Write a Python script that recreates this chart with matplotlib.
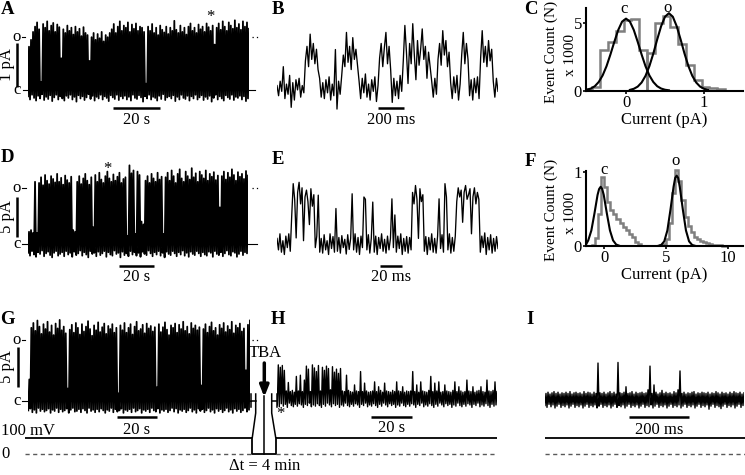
import numpy as np
import matplotlib
matplotlib.use('Agg')
from matplotlib import pyplot as plt

plt.rcParams['font.family'] = ['Liberation Serif', 'DejaVu Serif']
FS = 12
plt.rcParams['font.size'] = FS

# ---------------- data ----------------
# trace lengths (s)
dur_a = 94.0
dur_b = 1.7
dur_d = 126.0
dur_e = 0.201
dur_g = 111.0
dur_h = 107.0
dur_i = 0.663

# open level of each recording (pA); traces below are in % of it
open_a = 1.2
open_b = 0.66
open_d = 7.1
open_e = 5.75
open_g = 7.6

# dense recordings: upper / lower envelope per column (% of open level)
a_top = [82, 95, 110, 120, 128, 115, 15, 125, 118, 130, 112, 122, 127, 110, 124, 119,
         60, 115, 108, 122, 112, 118, 105, 120, 110, 116, 102, 119, 108,
         104, 55, 100, 108, 95, 106, 98, 110, 92, 104, 100, 108,
         115, 125, 108, 120, 130, 112, 122, 118, 128, 110, 124, 116, 126, 112, 120,
         118, 110, 12, 120, 112, 125, 108, 118, 104, 122, 114, 109, 120, 106, 118, 112, 131,
         114, 108, 122, 110, 118, 105, 120, 126, 112, 118, 108, 124, 115, 120, 110, 126, 119, 112, 122, 86,
         118, 126, 114, 130, 120, 112, 128, 122, 116, 132, 118, 125, 114, 130, 120, 128, 116]
a_bot = [-12, -18, -9, -15, -20, -11, -16, -8, -19, -13, -17, -10, -21, -14, -9, -18, -12, -16, -20, -11,
         -15, -9, -18, -13, -22, -10, -16, -12, -19, -14, -8, -17, -11, -20, -13, -16, -9, -18, -12, -15,
         -21, -10, -14, -17, -9, -19, -12, -16, -11, -18, -13, -20, -9, -15, -17, -10, -14, -22, -12, -16,
         -9, -18, -13, -15, -20, -11, -17, -8, -19, -14, -12, -16, -10, -21, -13, -18, -9, -15, -17, -11,
         -20, -12, -16, -9, -18, -14, -10, -19, -13, -17, -11, -22, -15, -9, -18, -12, -16, -20, -10, -14,
         -17, -9, -19, -13, -15, -11, -18, -12, -21, -16]

d_top = [22, 25, 20, 110, 20,
         108, 118, 104, 122, 112, 106, 120, 115, 109, 124, 110, 117, 105, 121, 113, 108, 119,
         25, 22,
         110, 120, 106, 116, 124, 112, 105, 118, 30, 122, 110, 126, 114, 108, 120, 128, 116, 110,
         123, 112, 119, 126, 108, 115,
         118, 15, 139, 125, 130, 18, 128, 122, 40, 35,
         112, 120, 108, 124, 116, 110, 126, 114, 119, 18,
         118, 126, 112, 130, 120, 108, 124, 132, 116, 110, 128, 120, 114, 134, 118, 125, 110, 128,
         122, 116, 130, 112, 124, 119, 127, 113, 121, 65,
         120, 128, 114, 126, 118, 132, 122, 112, 127, 119, 124, 115, 129, 121]
d_bot = [-15, -20, -12, -18, -22, -14, -17, -11, -21, -16, -13, -19, -23, -15, -12, -20, -17, -14, -21, -12,
         -18, -15, -22, -13, -19, -16, -11, -20, -14, -18, -23, -12, -17, -15, -21, -13, -19, -16, -12, -22,
         -14, -18, -20, -11, -17, -15, -23, -13, -19, -16, -21, -12, -18, -14, -20, -15, -22, -13, -17, -19,
         -11, -16, -21, -14, -18, -12, -20, -15, -23, -13, -17, -19, -12, -16, -21, -14, -18, -11, -20, -15,
         -22, -13, -17, -19, -12, -16, -21, -14, -18, -20, -13, -15, -22, -12, -17, -19, -14, -21, -16, -11,
         -18, -20, -13, -15, -22, -17, -12, -19, -14, -16]

g_top = [35,
         120, 128, 115, 132, 122, 110, 126, 118, 130, 113, 124, 108, 127, 119, 133, 116, 122, 111,
         20,
         117, 125, 112, 128, 120, 109, 126, 114, 122, 131, 118, 107, 124, 116, 129, 113, 121, 127,
         110, 123, 118, 126, 112, 120,
         12,
         124, 116, 128, 112, 120, 126, 109, 122, 130, 115, 118, 125, 111, 127, 119, 123, 114, 121,
         22,
         126, 113, 121, 129, 117, 108, 124, 120, 127, 112, 125, 118, 130, 115, 122, 110, 128, 119,
         124, 116, 121,
         25,
         118, 126, 112, 122, 129, 115, 120, 108, 125, 119, 128, 113, 123, 117, 130, 111, 124, 120,
         127, 114, 119,
         50, 125, 132]
g_bot = [-16, -13, -19, -15, -20, -12, -17, -14, -18, -16, -13, -20, -15, -17, -12, -19, -14, -18, -16, -13,
         -20, -15, -12, -18, -17, -14, -19, -13, -16, -20, -12, -17, -15, -19, -14, -18, -13, -16, -20, -15,
         -17, -12, -19, -14, -18, -16, -13, -20, -15, -17, -14, -19, -12, -18, -16, -13, -20, -15, -17, -14,
         -19, -12, -16, -18, -13, -20, -15, -17, -14, -19, -16, -12, -18, -13, -20, -15, -17, -14, -19, -16,
         -12, -18, -15, -20, -13, -17, -14, -19, -16, -12, -18, -15, -20, -13, -17, -14, -19, -16, -12, -18,
         -15, -20, -13, -17, -14, -19, -16, -12, -18, -15]

# after TBA (same scale as G)
h_top = [59, 55, 58, 50, 16, 30, 15, 17, 14, 40, 16, 42, 15, 34,
         57, 52, 15, 59, 54, 48, 58, 16, 55, 50, 57, 53, 18, 56, 47, 52, 45,
         53, 16, 15, 42, 17, 15, 14, 26, 16, 15, 48, 15, 29, 16, 14,
         15, 16, 31, 15, 23, 17, 14, 29, 16, 15, 14, 17, 15, 31, 16, 15, 23, 14, 16, 15,
         16, 48, 15, 26, 14, 31, 16, 15, 14, 17, 40, 15, 29, 16, 31, 14, 15, 26, 16, 15,
         14, 17, 31, 15, 23, 16, 14, 15, 34, 16, 15, 23, 14, 16, 17, 23, 15, 14, 34, 16, 15, 17, 31, 15]
h_bot = [-7, -10, -5, -9, -6, -11, -4, -8, -10, -6, -9, -5, -7, -11, -6, -8, -4, -10, -7, -9,
         -5, -8, -11, -6, -9, -4, -7, -10, -5, -8, -6, -11, -7, -9, -4, -8, -10, -6, -9, -5,
         -7, -11, -6, -8, -4, -10, -7, -9, -5, -8, -11, -6, -9, -4, -7, -10, -5, -8, -6, -11,
         -7, -9, -4, -8, -10, -6, -9, -5, -7, -11, -6, -8, -4, -10, -7, -9, -5, -8, -11, -6,
         -9, -4, -7, -10, -5, -8, -6, -11, -7, -9, -4, -8, -10, -6, -9, -5, -7, -11, -6, -8,
         -4, -10, -7, -9, -5, -8, -11, -6, -9, -7]
i_top = [12, 14, 11, 13, 15, 12, 14, 11, 13, 12, 14, 12, 15, 11, 13, 14, 12, 13, 11, 15,
         12, 14, 13, 11, 14, 12, 62, 13, 12, 14, 11, 13, 15, 12, 14, 11, 63, 13, 12, 14,
         23, 12, 13, 15, 11, 14, 12, 13, 14, 12, 13, 18, 57, 12, 26, 14, 11, 13, 17, 12,
         14, 12, 13, 11, 15, 13, 18, 49, 12, 14, 11, 13, 12, 14, 15, 11, 13, 12, 14, 13,
         12, 14, 11, 13, 12, 15, 13, 11, 14, 12, 13, 11, 14, 12, 15, 13, 12, 14, 11, 13]
i_bot = [-8, -11, -6, -10, -7, -12, -9, -6, -11, -8, -10, -7, -12, -9, -6, -11, -8, -10, -7, -12,
         -9, -6, -11, -8, -10, -7, -12, -9, -6, -11, -8, -10, -7, -12, -9, -6, -11, -8, -10, -7,
         -12, -9, -6, -11, -8, -10, -7, -12, -9, -6, -11, -8, -10, -7, -12, -9, -6, -11, -8, -10,
         -7, -12, -9, -6, -11, -8, -10, -7, -12, -9, -6, -11, -8, -10, -7, -12, -9, -6, -11, -8,
         -10, -7, -14, -9, -6, -11, -8, -10, -13, -9, -6, -11, -8, -10, -7, -12, -9, -6, -11, -8]

# expanded recordings, sample by sample (% of open level)
b_trace = [5, -30, 20, -15, 70, -40, 10, -25, 40, -70, 15, -45, 25, -10, 30, -35, 5, -20,
           90, 140, 70, 182, 95, 150, 80, 130, 60,
           30, -35, 15, -40, 25, -20, 35, -45, 10, -30, 129, -76, 20, -25, 40,
           110, 70, 188, 85, 140, 60, 170, 95, 130, 75,
           20, -40, 30, -20, 45, -35, 10, -45, 25, -15, 35, -50, 5,
           100, 150, 70, 135, 188, 80, 140, 60,
           -53, 30, -30, 20, -40, 40, -15,
           90, 212, 120, 12, 150, 80, 218, 110, 25, 160, 75, 130, 200, 95, 140, 30, 120, 70,
           20, -35, 30, -25,
           95, 150, 75, 194, 110, 160, 70, 120,
           15, -40, 35, -20, 40, -45, 10,
           110, 188, 80, 150, 95,
           -30, 25, -45, 30, -20, 35, -40,
           100, 194, 85, 140, 70, 160, 90, 130,
           20, -35, 30, -15]
e_trace = [10, -15, 20, -20, 5, -25, 15, -10, 20, -18,
           60, 129, 95, 11, 110, 132, 85, 120, 5, 100, 115, 90, 40, 118, 80, 105,
           -10, 15, 104, -20, 10, -22, 18, -15, 5, -25, 20, -12, 14, -20, 75, -18, 12, -22, 16, -10,
           8, -24, 18, -14,
           10, 107, -15,
           20, -20, 12, -25, 15, -10,
           100, 95,
           -15, 18, -22, 10,
           89,
           -20, 15, -25, 12, -12, 20, -18, 8, -22, 15, -15, 10,
           96, -10, 61,
           -20, 15, -12, 20, -25, 10, -18, 14, -22, 12, -15,
           110, 85, 125, 95, 10, 118, 90, 105,
           -18, 14, -25, 12, -15, 20, -20, 10, -22, 15,
           96,
           -12, 18, -20,
           129, 100,
           -15, 20, -22, 12, -18, 15,
           90, 120, 100, 115, 45, 110, 125, 95, 105, 118, 20, 100, 120, 85, 110, 95,
           -20, 15, -10, 22, -25, 12, -15, 18, -22, 10, -18, 14, -12]

# amplitude histograms (counts x 1000) and Gaussian fits
c_closed_edges = [-0.53, -0.43, -0.33, -0.23, -0.13, -0.03, 0.07, 0.17, 0.27]
c_closed_counts = [0.1, 0.25, 3.0, 3.6, 4.4, 5.2, 5.3, 3.0]
c_open_edges = [0.27, 0.37, 0.47, 0.57, 0.67, 0.77, 0.87, 0.97, 1.07, 1.17, 1.27]
c_open_counts = [2.8, 5.0, 5.5, 4.7, 3.4, 1.9, 0.8, 0.3, 0.22, 0.15]
c_fit_closed_x = [-0.51, -0.45, -0.4, -0.35, -0.3, -0.25, -0.2, -0.15, -0.1, -0.05, 0.0,
                  0.05, 0.1, 0.15, 0.2, 0.25, 0.3, 0.35, 0.4, 0.45, 0.5, 0.55]
c_fit_closed_y = [0.06, 0.16, 0.33, 0.64, 1.12, 1.80, 2.66, 3.59, 4.46, 5.08, 5.3,
                  5.08, 4.46, 3.59, 2.66, 1.80, 1.12, 0.64, 0.33, 0.16, 0.07, 0.03]
c_fit_open_x = [0.05, 0.1, 0.15, 0.2, 0.25, 0.3, 0.35, 0.4, 0.45, 0.5, 0.55,
                0.6, 0.65, 0.7, 0.75, 0.8, 0.85, 0.9, 0.95, 1.0, 1.05]
c_fit_open_y = [0.06, 0.14, 0.30, 0.60, 1.09, 1.81, 2.73, 3.77, 4.74, 5.44, 5.7,
                5.44, 4.74, 3.77, 2.73, 1.81, 1.09, 0.60, 0.30, 0.14, 0.06]

f_closed_edges = [-1.0, -0.75, -0.5, -0.25, 0.0, 0.25, 0.5, 0.75, 1.0, 1.25, 1.5,
                  1.75, 2.0, 2.25, 2.5, 2.75, 3.0]
f_closed_counts = [0.02, 0.11, 0.43, 0.93, 0.8, 0.59, 0.49, 0.43, 0.36, 0.31, 0.26,
                   0.21, 0.16, 0.12, 0.06, 0.03]
f_open_edges = [4.5, 4.75, 5.0, 5.25, 5.5, 5.75, 6.0, 6.25, 6.5, 6.75, 7.0, 7.25,
                7.5, 7.75, 8.0, 8.25, 8.5, 8.75, 9.0, 9.25, 9.5, 9.75, 10.0]
f_open_counts = [0.01, 0.03, 0.1, 0.31, 0.72, 1.03, 0.88, 0.62, 0.39, 0.27, 0.19,
                 0.12, 0.09, 0.07, 0.05, 0.04, 0.03, 0.02, 0.015, 0.01, 0.005, 0.0]
f_fit_closed_x = [-1.45, -1.27, -1.02, -0.77, -0.52, -0.395, -0.27, -0.145, -0.02,
                  0.23, 0.48, 0.73, 0.98, 1.23]
f_fit_closed_y = [0.02, 0.076, 0.21, 0.44, 0.69, 0.77, 0.8, 0.77, 0.69,
                  0.44, 0.21, 0.076, 0.02, 0.004]
f_fit_open_x = [4.36, 4.61, 4.86, 5.11, 5.36, 5.61, 5.74, 5.86, 5.98, 6.11,
                6.36, 6.61, 6.86, 7.11, 7.36]
f_fit_open_y = [0.002, 0.014, 0.063, 0.21, 0.49, 0.8, 0.92, 0.95, 0.92, 0.8,
                0.49, 0.21, 0.063, 0.014, 0.002]

# holding potential protocol
v_hold = 100     # mV
v_rest = 0
pulse_t = [0, 0, 4, 4]        # min
pulse_v = [100, 0, 0, 100]
dt_min = 4

GRAY = '#7f7f7f'
W, H = 745, 475
fig = plt.figure(figsize=(W / 100, H / 100), dpi=100)

ov = fig.add_axes([0, 0, 1, 1])
ov.set_xlim(0, W)
ov.set_ylim(H, 0)
ov.axis('off')


def px_axes(left, top, right, bottom):
    ax = fig.add_axes([left / W, 1 - bottom / H, (right - left) / W, (bottom - top) / H])
    ax.patch.set_visible(False)
    return ax


def trace_axes(left, right, top, bottom, dur, c_px, ppp):
    ax = px_axes(left, top, right, bottom)
    ax.set_xlim(0, dur)
    ax.set_ylim((c_px - bottom) / ppp, (c_px - top) / ppp)
    ax.axis('off')
    return ax


def to_data(ax, px, py):
    return ax.transData.inverted().transform((px, H - py))


def dense_trace(ax, top, bot, dur, open_pa, lw=1.3):
    y = np.column_stack([bot, top]).ravel() * open_pa / 100
    ax.plot(np.linspace(0, dur, len(y)), y, color='k', lw=lw)


def trace(ax, vals, dur, open_pa):
    y = np.array(vals) * open_pa / 100
    ax.plot(np.linspace(0, dur, len(y)), y, color='k', lw=0.95)


def time_bar(ax, px, py, length, label, text_py):
    x0, y0 = to_data(ax, px, py)
    ax.plot([x0, x0 + length], [y0, y0], color='k', lw=1.8, clip_on=False,
            solid_capstyle='butt')
    ax.text(x0 + length / 2, to_data(ax, px, text_py)[1], label,
            ha='center', va='center')


def amp_bar(ax, px, py, length, label, label_px):
    x0, y0 = to_data(ax, px, py)
    ax.plot([x0, x0], [y0, y0 + length], color='k', lw=1.8, clip_on=False,
            solid_capstyle='butt')
    ax.text(to_data(ax, label_px, py)[0], y0 + length / 2, label, rotation=90,
            ha='center', va='center')


def levels(ax, open_pa, left_px, right_px):
    xl = to_data(ax, left_px, 0)[0]
    xr = to_data(ax, right_px, 0)[0]
    ax.plot([xl, xr], [0, 0], color='k', lw=0.8, clip_on=False)
    ax.plot([to_data(ax, 21.5, 0)[0], to_data(ax, 25.5, 0)[0]], [open_pa] * 2,
            color='k', lw=0.8, clip_on=False)
    ax.plot([to_data(ax, 251.5, 0)[0], to_data(ax, 259, 0)[0]], [open_pa] * 2,
            color='k', lw=0.9, ls=(0, (1, 2.5)), clip_on=False)
    xt = to_data(ax, 17, 0)[0]
    ax.text(xt, open_pa, 'o', ha='center', va='center')
    ax.text(xt, 0, 'c', ha='center', va='center')


def volt_axes(left, right):
    ax = px_axes(left, 425, right, 465)
    ax.set_ylim(-67, 183)
    ax.axis('off')
    return ax


def style_hist(ax, xt, yt):
    for s in ['top', 'right']:
        ax.spines[s].set_visible(False)
    for s in ['left', 'bottom']:
        ax.spines[s].set_linewidth(1.5)
    ax.set_xticks(xt)
    ax.set_yticks(yt)
    ax.tick_params(direction='out', length=2.5, width=1.2, pad=0.3, labelsize=FS)


# ---- A ----
ax_a = trace_axes(28, 249, 5, 110, dur_a, 90, 44)
dense_trace(ax_a, a_top, a_bot, dur_a, open_a)
levels(ax_a, open_a, 22.5, 255)
amp_bar(ax_a, 17, 87, 1, '1 pA', 7)
time_bar(ax_a, 113, 108, 20, '20 s', 120)

# ---- B ----
ax_b = trace_axes(277, 498, 5, 110, dur_b, 87, 44)
trace(ax_b, b_trace, dur_b, open_b)
time_bar(ax_b, 378, 108, 0.2, '200 ms', 120)

# ---- C ----
ax_c = px_axes(586, 8, 743, 90.7)
ax_c.set_xlim(-0.513, 1.5)
ax_c.set_ylim(0, 6.08)
ax_c.stairs(c_closed_counts, c_closed_edges, color=GRAY, lw=1.8)
ax_c.stairs(c_open_counts, c_open_edges, color=GRAY, lw=1.8)
ax_c.plot(c_fit_closed_x, c_fit_closed_y, color='k', lw=1.5)
ax_c.plot(c_fit_open_x, c_fit_open_y, color='k', lw=1.5)
style_hist(ax_c, [0, 1], [0, 5])

# ---- D ----
ax_d = trace_axes(28, 248, 150, 265, dur_d, 244.3, 8)
dense_trace(ax_d, d_top, d_bot, dur_d, open_d)
levels(ax_d, open_d, 22, 256.5)
amp_bar(ax_d, 17, 236.7, 5, '5 pA', 7)
time_bar(ax_d, 119, 266, 20, '20 s', 277)

# ---- E ----
ax_e = trace_axes(277, 498, 150, 265, dur_e, 243, 8)
trace(ax_e, e_trace, dur_e, open_e)
time_bar(ax_e, 380, 266, 0.02, '20 ms', 277)

# ---- F ----
ax_f = px_axes(586, 171, 743, 246)
ax_f.set_xlim(-1.452, 11.21)
ax_f.set_ylim(0, 1.0135)
ax_f.stairs(f_closed_counts, f_closed_edges, color=GRAY, lw=1.8, clip_on=False)
ax_f.stairs(f_open_counts, f_open_edges, color=GRAY, lw=1.8, clip_on=False)
ax_f.plot(f_fit_closed_x, f_fit_closed_y, color='k', lw=1.5)
ax_f.plot(f_fit_open_x, f_fit_open_y, color='k', lw=1.5)
style_hist(ax_f, [0, 5, 10], [0, 1])

# ---- G / H / I ----
ax_g = trace_axes(28.3, 250, 310, 420, dur_g, 400.7, 7.99)
dense_trace(ax_g, g_top, g_bot, dur_g, open_g)
levels(ax_g, open_g, 22, 250.7)
amp_bar(ax_g, 18, 386.7, 5, '5 pA', 7)
time_bar(ax_g, 117, 417, 20, '20 s', 430)

ax_h = trace_axes(277.3, 497, 350, 420, dur_h, 400.7, 7.99)
dense_trace(ax_h, h_top, h_bot, dur_h, open_g, lw=1.0)
time_bar(ax_h, 370.7, 417, 20, '20 s', 428)

ax_i = trace_axes(545, 744, 350, 420, dur_i, 400.7, 7.99)
dense_trace(ax_i, i_top, i_bot, dur_i, open_g, lw=1.0)
time_bar(ax_i, 629, 417, 0.2, '200 ms', 430)

# holding potential
for left, right in [(25, 252.3), (275.7, 497), (545, 745)]:
    vax = volt_axes(left, right)
    vax.axhline(v_hold, color='k', lw=1.3)
    vax.axhline(v_rest, color='0.35', lw=1, ls=(0, (3, 2.5)))
vb = volt_axes(252.3, 275.7)
vb.set_xlim(0, dt_min)
vb.plot(pulse_t, pulse_v, color='k', lw=1.3, clip_on=False)

# break between G and H (TBA application)
lk = dict(color='k', lw=1.1)
ov.plot([250.7, 250.7], [394, 407], **lk)
ov.plot([250.7, 255.7], [400.7, 400.7], **lk)
ov.plot([255.7, 255.7, 252.3], [394, 413, 437.5], **lk)
ov.plot([271.7, 271.7, 275.7], [394, 413, 437.5], **lk)
ov.plot([271.7, 277.3], [400.7, 400.7], **lk)
ov.plot([277.3, 277.3], [394, 407], **lk)
ov.plot([264.3, 264.3], [396, 454.3], **lk)
ov.annotate('', xy=(264.3, 397), xytext=(264.3, 363),
            arrowprops=dict(arrowstyle='-|>,head_length=0.55,head_width=0.22',
                            lw=2.5, color='k', shrinkA=0, shrinkB=0))
ov.text(265, 353, 'TBA', ha='center', va='center')
ov.text(265, 466, 'Δt = 4 min', ha='center', va='center')
ov.text(1, 431, '100 mV', ha='left', va='center')
ov.text(5, 454, '0', ha='center', va='center')

# asterisks
ov.text(210, 17, '*', ha='center', va='center')
ov.text(107, 169, '*', ha='center', va='center')
ov.text(280, 414, '*', ha='center', va='center')

# histogram labels
for yc, yx in [(52, 120), (210, 275)]:
    ov.text(551, yc, 'Event Count (N)', rotation=90, ha='center', va='center', fontsize=11)
    ov.text(570, yc + 3, 'x 1000', rotation=90, ha='center', va='center', fontsize=11)
    ov.text(664, yx, 'Current (pA)', ha='center', va='center')
ov.text(624, 9, 'c', ha='center', va='center')
ov.text(668, 8, 'o', ha='center', va='center')
ov.text(604, 170, 'c', ha='center', va='center')
ov.text(676, 161, 'o', ha='center', va='center')

# panel letters
for letter, x, y in [('A', 7.5, 10), ('B', 278, 10), ('C', 531, 10),
                     ('D', 7, 158), ('E', 278, 160), ('F', 530, 161),
                     ('G', 7, 319), ('H', 278, 319), ('I', 530, 320)]:
    ov.text(x, y, letter, fontweight='bold', fontsize=13.5, ha='center', va='center')

fig.savefig('out.png', dpi=100)
